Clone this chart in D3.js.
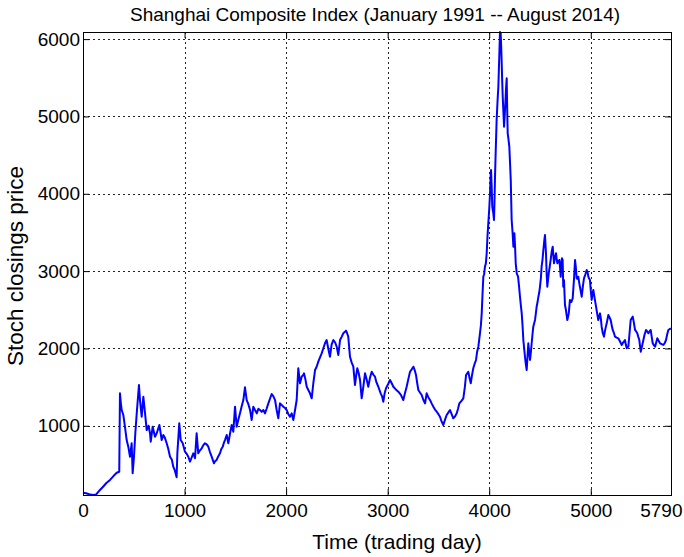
<!DOCTYPE html>
<html>
<head>
<meta charset="utf-8">
<script src="https://cdn.jsdelivr.net/npm/d3@7"></script>
<style>
  body { margin: 0; background: #fff; }
  svg { display: block; }
  text { font-family: "Liberation Sans", Arial, Helvetica, sans-serif; fill: #000; }
</style>
</head>
<body>
<svg id="chart" width="684" height="557"></svg>
<script>
// Shanghai Composite Index daily closes, indexed by trading day since January 1991
const tradingDays = [
  0, 30, 60, 100, 130, 167, 200, 230, 266, 300, 332, 357, 364, 372, 381, 397, 412, 430, 446, 463,
  479, 489, 502, 515, 529, 551, 561, 578, 594, 611, 627, 645, 660, 667, 686, 709, 726, 752, 775, 791,
  805, 824, 840, 857, 875, 889, 905, 922, 929, 948, 962, 982, 1004, 1020, 1037, 1054, 1070, 1086, 1103, 1119,
  1135, 1150, 1169, 1185, 1201, 1218, 1234, 1250, 1267, 1290, 1300, 1316, 1330, 1349, 1362, 1376, 1390, 1398, 1415, 1431,
  1448, 1464, 1480, 1497, 1513, 1530, 1546, 1562, 1579, 1595, 1612, 1628, 1645, 1661, 1677, 1695, 1711, 1727, 1743, 1760,
  1776, 1792, 1808, 1825, 1841, 1858, 1875, 1891, 1907, 1923, 1940, 1956, 1973, 1990, 2006, 2022, 2038, 2055, 2071, 2088,
  2104, 2120, 2137, 2153, 2169, 2176, 2190, 2203, 2220, 2235, 2252, 2268, 2285, 2300, 2317, 2333, 2350, 2366, 2383, 2399,
  2415, 2432, 2448, 2465, 2482, 2498, 2514, 2531, 2547, 2563, 2580, 2590, 2600, 2612, 2629, 2645, 2662, 2678, 2690, 2701,
  2715, 2728, 2744, 2760, 2777, 2793, 2809, 2826, 2843, 2860, 2875, 2890, 2908, 2931, 2945, 2957, 2970, 2984, 3005, 3023,
  3040, 3056, 3080, 3105, 3130, 3154, 3170, 3187, 3203, 3220, 3237, 3253, 3266, 3279, 3290, 3302, 3318, 3335, 3350, 3368,
  3384, 3400, 3417, 3433, 3450, 3466, 3483, 3500, 3515, 3530, 3548, 3565, 3581, 3597, 3614, 3630, 3646, 3663, 3680, 3693,
  3706, 3725, 3745, 3760, 3772, 3785, 3794, 3806, 3818, 3830, 3843, 3856, 3870, 3880, 3893, 3909, 3918, 3926, 3934, 3942,
  3950, 3958, 3967, 3975, 3983, 3991, 4000, 4008, 4013, 4018, 4024, 4030, 4040, 4047, 4052, 4057, 4065, 4073, 4082, 4090,
  4095, 4100, 4106, 4113, 4118, 4123, 4128, 4133, 4140, 4146, 4152, 4159, 4165, 4172, 4177, 4182, 4190, 4198, 4205, 4212,
  4221, 4230, 4238, 4248, 4255, 4261, 4271, 4284, 4294, 4303, 4312, 4320, 4328, 4336, 4344, 4352, 4360, 4369, 4377, 4385,
  4393, 4402, 4410, 4418, 4426, 4434, 4451, 4459, 4467, 4476, 4484, 4492, 4500, 4508, 4516, 4525, 4533, 4541, 4549, 4559,
  4566, 4572, 4580, 4586, 4595, 4605, 4615, 4625, 4632, 4638, 4648, 4658, 4665, 4671, 4680, 4690, 4697, 4704, 4710, 4716,
  4723, 4729, 4736, 4746, 4755, 4769, 4783, 4795, 4808, 4822, 4835, 4845, 4853, 4861, 4870, 4877, 4887, 4900, 4911, 4922,
  4933, 4945, 4960, 4968, 4976, 4985, 4992, 5000, 5009, 5017, 5025, 5038, 5052, 5063, 5074, 5083, 5091, 5100, 5107, 5118,
  5130, 5143, 5157, 5165, 5173, 5185, 5196, 5206, 5216, 5228, 5239, 5255, 5271, 5288, 5305, 5320, 5337, 5345, 5354, 5362,
  5370, 5382, 5393, 5403, 5413, 5425, 5436, 5447, 5458, 5468, 5478, 5485, 5492, 5505, 5518, 5530, 5544, 5555, 5567, 5578,
  5590, 5600, 5610, 5622, 5633, 5645, 5655, 5668, 5682, 5698, 5714, 5728, 5741, 5752, 5764, 5777, 5790
];
const closingPrices = [
  135, 128, 115, 105, 112, 170, 215, 260, 300, 350, 393, 406, 1420, 1300, 1204, 1140, 1000, 816, 730, 600,
  774, 386, 600, 900, 1161, 1527, 1333, 1117, 1376, 1161, 945, 1000, 903, 794, 988, 859, 903, 1010, 816, 881,
  850, 774, 700, 600, 560, 471, 420, 334, 644, 1032, 816, 774, 665, 640, 600, 536, 590, 644, 580, 903,
  644, 680, 709, 750, 774, 760, 730, 660, 600, 515, 540, 558, 600, 644, 700, 730, 790, 816, 881, 774,
  900, 1010, 923, 1247, 988, 1080, 1161, 1250, 1333, 1497, 1333, 1280, 1204, 1075, 1247, 1200, 1161, 1220, 1204, 1180,
  1204, 1161, 1220, 1290, 1350, 1411, 1380, 1333, 1204, 1097, 1290, 1270, 1247, 1230, 1204, 1150, 1117, 1160, 1075, 1204,
  1333, 1743, 1549, 1635, 1657, 1678, 1600, 1505, 1460, 1420, 1355, 1550, 1721, 1760, 1829, 1880, 1937, 2000, 2067, 2109,
  2000, 1893, 2050, 2109, 2080, 2023, 1915, 2109, 2150, 2196, 2215, 2230, 2200, 2152, 1893, 1820, 1764, 1527, 1650, 1743,
  1680, 1592, 1355, 1500, 1678, 1600, 1505, 1620, 1699, 1660, 1635, 1560, 1505, 1420, 1380, 1311, 1420, 1485, 1540, 1592,
  1550, 1505, 1470, 1441, 1400, 1333, 1420, 1505, 1600, 1699, 1730, 1764, 1720, 1657, 1560, 1463, 1430, 1398, 1340, 1290,
  1420, 1370, 1333, 1290, 1247, 1210, 1182, 1150, 1117, 1060, 1010, 1080, 1139, 1170, 1204, 1150, 1097, 1120, 1161, 1220,
  1290, 1320, 1355, 1500, 1657, 1680, 1699, 1620, 1549, 1650, 1743, 1800, 1851, 1950, 2023, 2196, 2300, 2450, 2700, 2928,
  2960, 3057, 3100, 3230, 3450, 3618, 3800, 4006, 4200, 4307, 4100, 3833, 3750, 3661, 3900, 4220, 4600, 4954, 5200, 5385,
  5600, 5816, 6092, 6074, 5900, 5686, 5450, 5256, 5050, 4868, 5000, 5170, 5350, 5493, 5100, 4782, 4700, 4609, 4400, 4178,
  3661, 3500, 3316, 3489, 3300, 3101, 2971, 2928, 2800, 2669, 2550, 2454, 2300, 2109, 2000, 1893, 1800, 1721, 1900, 2067,
  1950, 1851, 1950, 2067, 2180, 2282, 2368, 2450, 2540, 2600, 2669, 2720, 2799, 2900, 3057, 3150, 3273, 3380, 3467, 3230,
  2950, 2799, 2900, 2971, 3050, 3144, 3250, 3316, 3200, 3101, 3180, 3230, 3150, 3101, 3120, 3144, 3050, 2928, 3100, 3166,
  3144, 2799, 2885, 2562, 2500, 2368, 2450, 2627, 2600, 2648, 2900, 3144, 3050, 2906, 2900, 2928, 2842, 2750, 2669, 2800,
  2906, 2950, 3014, 2990, 2928, 2900, 2885, 2750, 2627, 2700, 2756, 2650, 2540, 2450, 2368, 2420, 2454, 2380, 2282, 2200,
  2152, 2250, 2325, 2380, 2432, 2400, 2368, 2300, 2239, 2200, 2152, 2140, 2131, 2090, 2045, 2080, 2109, 2050, 2002, 2020,
  2023, 2200, 2368, 2390, 2411, 2330, 2239, 2220, 2196, 2150, 2109, 2030, 1958, 2030, 2109, 2180, 2239, 2220, 2196, 2220,
  2239, 2150, 2067, 2040, 2023, 2080, 2131, 2100, 2067, 2055, 2045, 2070, 2109, 2180, 2239, 2250, 2260
];
const xTickValues = [0, 1000, 2000, 3000, 4000, 5000, 5790];
const yTickValues = [1000, 2000, 3000, 4000, 5000, 6000];
const titleText = "Shanghai Composite Index (January 1991 -- August 2014)";
const xLabelText = "Time (trading day)";
const yLabelText = "Stoch closings price";

const width = 684, height = 557;
const margin = { top: 32, right: 13, bottom: 62, left: 83 };
const innerW = width - margin.left - margin.right;
const innerH = height - margin.top - margin.bottom;
const fontStack = '"Liberation Sans", Arial, Helvetica, sans-serif';

const points = tradingDays.map((d, i) => ({ day: d, close: closingPrices[i] }));

const x = d3.scaleLinear()
  .domain([0, d3.max(xTickValues)])
  .range([0, innerW]);
const y = d3.scaleLinear()
  .domain(d3.extent(closingPrices))
  .range([innerH, 0]);

const svg = d3.select("#chart");
const g = svg.append("g").attr("transform", `translate(${margin.left},${margin.top})`);

// dotted grid
const grid = g.append("g").attr("class", "grid")
  .attr("stroke", "#222").attr("stroke-width", 1).attr("stroke-dasharray", "2,3");
grid.selectAll("line.v").data(xTickValues.filter(v => v > 0 && v < d3.max(xTickValues)))
  .join("line").attr("class", "v")
  .attr("x1", d => Math.round(x(d)) + 0.5).attr("x2", d => Math.round(x(d)) + 0.5)
  .attr("y1", 0).attr("y2", innerH);
grid.selectAll("line.h").data(yTickValues)
  .join("line").attr("class", "h")
  .attr("y1", d => Math.round(y(d)) + 0.5).attr("y2", d => Math.round(y(d)) + 0.5)
  .attr("x1", 0).attr("x2", innerW);

// price line
g.append("path")
  .datum(points)
  .attr("fill", "none")
  .attr("stroke", "#0000ff")
  .attr("stroke-width", 2)
  .attr("stroke-linejoin", "round")
  .attr("d", d3.line().x(d => x(d.day)).y(d => y(d.close)));

// axes with inward ticks on all four sides
const tickLen = 6;
const styleAxis = sel => {
  sel.select(".domain").remove();
  sel.selectAll(".tick line").attr("stroke", "#000");
  sel.selectAll(".tick text").attr("font-size", 19).attr("fill", "#000")
    .attr("font-family", fontStack);
};

g.append("g").attr("transform", `translate(0,${innerH})`)
  .call(d3.axisBottom(x).tickValues(xTickValues).tickFormat(d3.format("d"))
    .tickSizeInner(-tickLen).tickSizeOuter(0).tickPadding(9))
  .call(styleAxis)
  // keep the last label inside the figure
  .call(sel => sel.selectAll(".tick text").filter(d => d === d3.max(xTickValues))
    .attr("text-anchor", "end").attr("dx", 11));

g.append("g")
  .call(d3.axisTop(x).tickValues(xTickValues).tickFormat("")
    .tickSizeInner(-tickLen).tickSizeOuter(0))
  .call(styleAxis);

g.append("g")
  .call(d3.axisLeft(y).tickValues(yTickValues).tickFormat(d3.format("d"))
    .tickSizeInner(-tickLen).tickSizeOuter(0).tickPadding(3))
  .call(styleAxis);

g.append("g").attr("transform", `translate(${innerW},0)`)
  .call(d3.axisRight(y).tickValues(yTickValues).tickFormat("")
    .tickSizeInner(-tickLen).tickSizeOuter(0))
  .call(styleAxis);

// plot box
g.append("rect")
  .attr("x", 0.5).attr("y", 0.5)
  .attr("width", innerW).attr("height", innerH)
  .attr("fill", "none").attr("stroke", "#000").attr("stroke-width", 1);

// title and axis labels
svg.append("text")
  .attr("x", 375).attr("y", 21)
  .attr("text-anchor", "middle").attr("font-size", 19)
  .text(titleText);

svg.append("text")
  .attr("x", 397).attr("y", 549)
  .attr("text-anchor", "middle").attr("font-size", 21)
  .text(xLabelText);

svg.append("text")
  .attr("transform", `translate(23,266) rotate(-90)`)
  .attr("text-anchor", "middle").attr("font-size", 22.5)
  .text(yLabelText);
</script>
</body>
</html>
